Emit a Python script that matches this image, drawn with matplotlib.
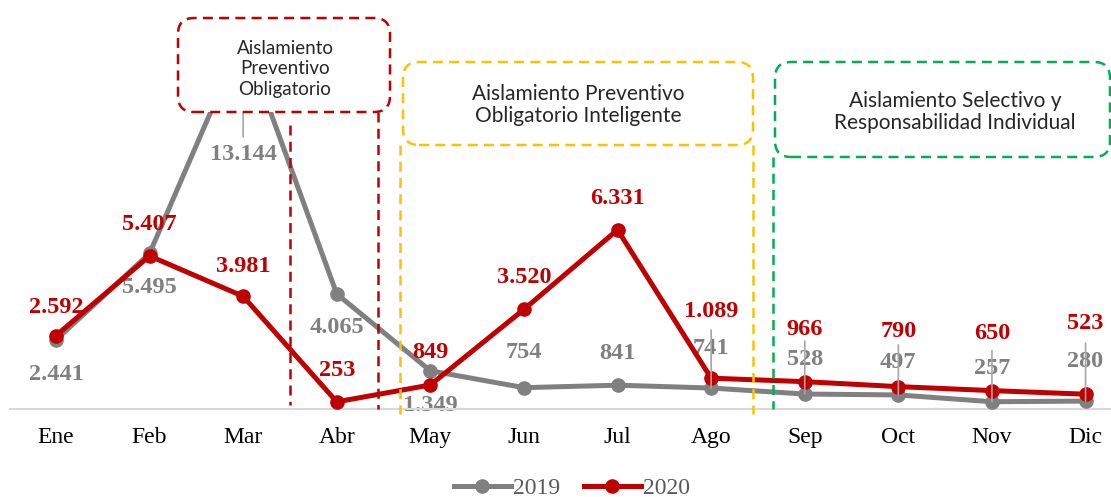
import matplotlib
matplotlib.use("Agg")
import matplotlib.pyplot as plt
from matplotlib.patches import FancyBboxPatch
from matplotlib.lines import Line2D

# datos
meses = ["Ene", "Feb", "Mar", "Abr", "May", "Jun", "Jul", "Ago", "Sep", "Oct", "Nov", "Dic"]
casos_2019 = [2441, 5495, 13144, 4065, 1349, 754, 841, 741, 528, 497, 257, 280]
casos_2020 = [2592, 5407, 3981, 253, 849, 3520, 6331, 1089, 966, 790, 650, 523]

etapas = ["Aislamiento\nPreventivo\nObligatorio",
          "Aislamiento Preventivo\nObligatorio Inteligente",
          "Aislamiento Selectivo y\nResponsabilidad Individual"]

# desplazamiento de etiquetas (pixeles, positivo hacia abajo)
desp_2019 = [35, 34, 118, 34, 35, -35, -32, -40, -35, -32, -33, -40]
desp_2020 = [-28, -31, -30, -31, -32, -32, -31, -67, -52, -55, -57, -71]
guias_2019 = [2, 7, 8, 9, 10, 11]

GRIS = "#808080"
ROJO = "#C00000"
W, H = 1111, 497


def fmt(v):
    return "{:,}".format(v).replace(",", ".")


def px(x, y):
    """pixeles de la imagen -> pulgadas desde abajo"""
    return x / 100, (H - y) / 100


def caja(ax, x0, y0, x1, y1, color, texto, tx, ty, fs, ls):
    a = px(x0, y1)
    b = px(x1, y0)
    p = FancyBboxPatch(a, b[0] - a[0], b[1] - a[1],
                       boxstyle="round,pad=0,rounding_size=0.16",
                       transform=ax.figure.dpi_scale_trans, facecolor="white",
                       edgecolor=color, lw=1.8, linestyle=(0, (4, 2.5)),
                       zorder=6, clip_on=False)
    ax.add_patch(p)
    ax.text(*px(tx, ty), texto, transform=ax.figure.dpi_scale_trans, ha="center",
            va="center", fontsize=fs, family="Lato", color="#262626",
            linespacing=ls, zorder=7)


def vline(ax, x, y0, y1, color):
    a = px(x, y0)
    b = px(x, y1)
    ln = Line2D([a[0], b[0]], [a[1], b[1]], transform=ax.figure.dpi_scale_trans,
                color=color, lw=1.8, linestyle=(0, (4, 2.5)), zorder=5, clip_on=False)
    ax.add_line(ln)


def grafico():
    fig = plt.figure(figsize=(W / 100, H / 100), dpi=100)
    ax = fig.add_axes([10 / W, 88 / H, 1101 / W, 409 / H])
    x = list(range(len(meses)))

    ax.plot(x, casos_2019, color=GRIS, lw=3.6, marker="o", ms=9.5, label="2019", zorder=3)
    ax.plot(x, casos_2020, color=ROJO, lw=3.6, marker="o", ms=9.5, label="2020", zorder=4)

    for i, v in enumerate(casos_2019):
        ax.annotate(fmt(v), (i, v), xytext=(0, -desp_2019[i]), textcoords="offset pixels",
                    ha="center", va="center", fontsize=17.5, fontweight="bold",
                    family="Liberation Serif", color=GRIS, zorder=2)
    for i in guias_2019:
        ax.annotate("", (i, casos_2019[i]), xytext=(0, -(desp_2019[i] - 18)),
                    textcoords="offset pixels",
                    arrowprops=dict(arrowstyle="-", color="#A6A6A6", lw=1.2,
                                    shrinkA=0, shrinkB=0), zorder=5)
    for i, v in enumerate(casos_2020):
        ax.annotate(fmt(v), (i, v), xytext=(0, -desp_2020[i]), textcoords="offset pixels",
                    ha="center", va="center", fontsize=17.5, fontweight="bold",
                    family="Liberation Serif", color=ROJO, zorder=5)

    ax.set_xlim(-0.491, -0.491 + 1101 / 93.6)
    ax.set_ylim(0, 14450)
    ax.set_xticks(x)
    ax.set_xticklabels(meses, family="Liberation Serif", fontsize=17)
    ax.tick_params(axis="x", length=0, pad=13)
    ax.set_yticks([])
    for s in ["top", "right", "left"]:
        ax.spines[s].set_visible(False)
    ax.spines["bottom"].set_color("#D9D9D9")
    ax.spines["bottom"].set_linewidth(1.5)

    # etapas del aislamiento
    vline(ax, 290, 125, 405, ROJO)
    vline(ax, 378, 112, 409, ROJO)
    vline(ax, 400, 145, 414, "#FFC000")
    vline(ax, 753, 145, 414, "#FFC000")
    vline(ax, 773, 157, 409, "#00B050")
    caja(ax, 178, 18, 390, 112, ROJO, etapas[0], 285, 69, 13.5, 1.28)
    caja(ax, 403, 62, 753, 145, "#FFC000", etapas[1], 578, 105, 15, 1.12)
    caja(ax, 775, 62, 1110, 157, "#00B050", etapas[2], 955, 112, 15, 1.12)

    leg = fig.legend(loc="center", bbox_to_anchor=(572 / W, 1 - 488 / H), ncol=2,
                     frameon=False, prop={"family": "Liberation Serif", "size": 17},
                     handlelength=2.4, columnspacing=1.0, handletextpad=0.1)
    for t in leg.get_texts():
        t.set_color("#595959")

    fig.savefig("out.png", dpi=100)


if __name__ == "__main__":
    grafico()
